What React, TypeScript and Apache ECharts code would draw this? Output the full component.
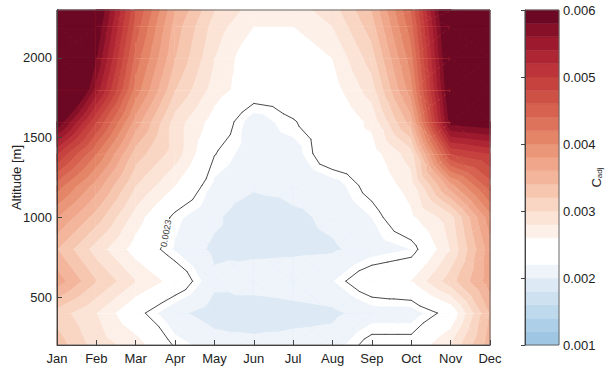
import React, { useEffect, useRef } from 'react';
import * as echarts from 'echarts';

// ---- data ----
const months = ['Jan', 'Feb', 'Mar', 'Apr', 'May', 'Jun', 'Jul', 'Aug', 'Sep', 'Oct', 'Nov', 'Dec'];
const altitudes = [200, 400, 600, 800, 1000, 1200, 1400, 1600, 1800, 2000, 2200, 2300];

// C_adj values per altitude row, Jan..Dec
const c200 = [0.0033, 0.0029, 0.0027, 0.00227, 0.0021, 0.0021, 0.0021, 0.0021, 0.0024, 0.0024, 0.0028, 0.0035];
const c400 = [0.0031, 0.0028, 0.00238, 0.00205, 0.0019, 0.0018, 0.0019, 0.00195, 0.0021, 0.0021, 0.0024, 0.0034];
const c600 = [0.0037, 0.0032, 0.0028, 0.0025, 0.00205, 0.00215, 0.00215, 0.0022, 0.0025, 0.0026, 0.0031, 0.0037];
const c800 = [0.0034, 0.0029, 0.0025, 0.00218, 0.00195, 0.00193, 0.00195, 0.00197, 0.0021, 0.0022, 0.0028, 0.0037];
const c1000 = [0.0038, 0.0033, 0.0027, 0.00224, 0.00205, 0.0018, 0.00195, 0.00205, 0.0022, 0.00255, 0.0029, 0.0039];
const c1200 = [0.0043, 0.0037, 0.003, 0.0026, 0.00216, 0.00205, 0.00208, 0.0021, 0.0024, 0.0027, 0.0037, 0.0045];
const c1400 = [0.005, 0.0042, 0.0033, 0.0029, 0.00231, 0.0021, 0.0021, 0.0025, 0.0025, 0.0029, 0.0048, 0.005];
const c1600 = [0.006, 0.0048, 0.0037, 0.0029, 0.0025, 0.0021, 0.00229, 0.0024, 0.00265, 0.0035, 0.0059, 0.006];
const c1800 = [0.007, 0.0055, 0.0041, 0.0032, 0.0027, 0.00245, 0.0024, 0.0025, 0.0029, 0.0039, 0.0061, 0.0072];
const c2000 = [0.0074, 0.0058, 0.0043, 0.0034, 0.0028, 0.0024, 0.0024, 0.0026, 0.0031, 0.0041, 0.0062, 0.0075];
const c2200 = [0.0076, 0.006, 0.0045, 0.0035, 0.0029, 0.0026, 0.0026, 0.0028, 0.0033, 0.0043, 0.0063, 0.0076];
const c2300 = [0.0077, 0.0061, 0.0046, 0.0036, 0.003, 0.0027, 0.0027, 0.0029, 0.0034, 0.0044, 0.0064, 0.0077];
const rows = [c200, c400, c600, c800, c1000, c1200, c1400, c1600, c1800, c2000, c2200, c2300];

const levels = [
  0.001, 0.0012, 0.0014, 0.0016, 0.0018, 0.002, 0.0022, 0.0024, 0.0026, 0.0028, 0.003,
  0.0032, 0.0034, 0.0036, 0.0038, 0.004, 0.0042, 0.0044, 0.0046, 0.0048, 0.005,
  0.0052, 0.0054, 0.0056, 0.0058, 0.006,
];
const bandColors = [
  '#9fc7e4', '#aecfe8', '#bed8ec', '#cee1f0', '#dde9f4', '#eef4fa', '#ffffff', '#ffffff',
  '#fdf0e8', '#fbe3d6', '#f9d5c3', '#f6c6af', '#f3b69c', '#efa68a', '#ea9678', '#e48568',
  '#dd735a', '#d6624f', '#ce5146', '#c6423f', '#bc3439', '#ae2633', '#9d1a2e', '#861027', '#6c0823',
];
const colorbarTicks = [0.001, 0.002, 0.003, 0.004, 0.005, 0.006];
const contourLevel = 0.0023;
const contourLabel = '0.0023';
const labelAltitude = 900;

const FONT = "'Liberation Sans', Arial, sans-serif";

type P = { x: number; y: number; v: number };

function clipAbove(poly: P[], level: number): P[] {
  const out: P[] = [];
  const n = poly.length;
  for (let k = 0; k < n; k++) {
    const a = poly[k];
    const b = poly[(k + 1) % n];
    const ina = a.v >= level;
    const inb = b.v >= level;
    if (ina) out.push(a);
    if (ina !== inb) {
      const t = (level - a.v) / (b.v - a.v);
      out.push({ x: a.x + t * (b.x - a.x), y: a.y + t * (b.y - a.y), v: level });
    }
  }
  return out;
}

function bandIndex(v: number): number {
  let k = 0;
  for (let i = 1; i < levels.length - 1; i++) if (v >= levels[i]) k = i;
  return k;
}

function renderField(params: any, api: any) {
  if (params.dataIndex !== 0) return null;
  const nM = months.length;
  const nA = altitudes.length;
  const tris: P[][] = [];
  for (let j = 0; j < nA - 1; j++) {
    for (let i = 0; i < nM - 1; i++) {
      const p00 = { x: i + 1, y: altitudes[j], v: rows[j][i] };
      const p10 = { x: i + 2, y: altitudes[j], v: rows[j][i + 1] };
      const p01 = { x: i + 1, y: altitudes[j + 1], v: rows[j + 1][i] };
      const p11 = { x: i + 2, y: altitudes[j + 1], v: rows[j + 1][i + 1] };
      const pc = {
        x: i + 1.5,
        y: (altitudes[j] + altitudes[j + 1]) / 2,
        v: (p00.v + p10.v + p01.v + p11.v) / 4,
      };
      tris.push([p00, p10, pc], [p10, p11, pc], [p11, p01, pc], [p01, p00, pc]);
    }
  }
  const children: any[] = [];
  const px = (p: { x: number; y: number }) => api.coord([p.x, p.y]);
  tris.forEach((tri) => {
    const vs = tri.map((p) => p.v);
    const kmin = bandIndex(Math.min(...vs));
    const kmax = bandIndex(Math.max(...vs));
    for (let k = kmin; k <= kmax; k++) {
      const poly = k === kmin ? tri : clipAbove(tri, levels[k]);
      if (poly.length < 3) continue;
      const c = bandColors[k];
      children.push({
        type: 'polygon',
        silent: true,
        shape: { points: poly.map(px) },
        style: { fill: c, stroke: c, lineWidth: 1, lineJoin: 'round' },
      });
    }
  });

  // contour line segments
  const segs: P[][] = [];
  tris.forEach((tri) => {
    const pts: P[] = [];
    for (let k = 0; k < 3; k++) {
      const a = tri[k];
      const b = tri[(k + 1) % 3];
      if ((a.v >= contourLevel) !== (b.v >= contourLevel)) {
        const t = (contourLevel - a.v) / (b.v - a.v);
        pts.push({ x: a.x + t * (b.x - a.x), y: a.y + t * (b.y - a.y), v: contourLevel });
      }
    }
    if (pts.length === 2) segs.push(pts);
  });

  // label location on the left branch
  let lc: number[] | null = null;
  let ang = 0;
  for (const s of segs) {
    const [a, b] = s;
    if (Math.min(a.x, b.x) > 5) continue;
    if ((a.y - labelAltitude) * (b.y - labelAltitude) <= 0 && a.y !== b.y) {
      const t = (labelAltitude - a.y) / (b.y - a.y);
      lc = api.coord([a.x + t * (b.x - a.x), labelAltitude]);
      const pa = px(a);
      const pb = px(b);
      let dx = pb[0] - pa[0];
      let dy = pb[1] - pa[1];
      if (dy > 0) { dx = -dx; dy = -dy; }
      ang = Math.atan2(-dy, dx);
      break;
    }
  }
  const R = 15;
  segs.forEach(([a, b]) => {
    const pa = px(a);
    const pb = px(b);
    let parts: number[][] = [[0, 1]];
    if (lc) {
      const dx = pb[0] - pa[0];
      const dy = pb[1] - pa[1];
      const fx = pa[0] - lc[0];
      const fy = pa[1] - lc[1];
      const A = dx * dx + dy * dy;
      const B = 2 * (fx * dx + fy * dy);
      const C = fx * fx + fy * fy - R * R;
      const disc = B * B - 4 * A * C;
      if (disc > 0 && A > 0) {
        const t1 = (-B - Math.sqrt(disc)) / (2 * A);
        const t2 = (-B + Math.sqrt(disc)) / (2 * A);
        parts = [];
        if (t1 > 0) parts.push([0, Math.min(1, t1)]);
        if (t2 < 1) parts.push([Math.max(0, t2), 1]);
      }
    }
    parts.forEach(([u, w]) => {
      if (w <= u) return;
      children.push({
        type: 'line',
        silent: true,
        shape: {
          x1: pa[0] + u * (pb[0] - pa[0]),
          y1: pa[1] + u * (pb[1] - pa[1]),
          x2: pa[0] + w * (pb[0] - pa[0]),
          y2: pa[1] + w * (pb[1] - pa[1]),
        },
        style: { stroke: '#4a4a4a', lineWidth: 1, lineCap: 'round' },
      });
    });
  });
  if (lc) {
    children.push({
      type: 'text',
      silent: true,
      x: lc[0],
      y: lc[1],
      rotation: ang,
      style: {
        text: contourLabel,
        x: 0,
        y: 0,
        align: 'center',
        verticalAlign: 'middle',
        textAlign: 'center',
        textVerticalAlign: 'middle',
        fontSize: 9,
        fontFamily: FONT,
        fill: '#444',
      },
    });
  }
  return { type: 'group', children };
}

function renderBand(params: any, api: any) {
  const p0 = api.coord([0, api.value(1)]);
  const p1 = api.coord([1, api.value(2)]);
  const c = bandColors[params.dataIndex];
  return {
    type: 'rect',
    silent: true,
    shape: { x: p0[0], y: p1[1], width: p1[0] - p0[0], height: p0[1] - p1[1] },
    style: { fill: c, stroke: c, lineWidth: 0.5 },
  };
}

export default function App() {
  const ref = useRef<HTMLDivElement>(null);
  useEffect(() => {
    document.body.style.margin = '0';
    if (!ref.current) return;
    const chart = echarts.init(ref.current, undefined, { renderer: 'svg' });
    const bandData = bandColors.map((_, k) => [0, levels[k], levels[k + 1]]);
    chart.setOption({
      animation: false,
      backgroundColor: '#ffffff',
      textStyle: { fontFamily: FONT },
      grid: [
        {
          left: 57, right: 118, top: 10, bottom: 27, show: true, borderColor: '#666', borderWidth: 1, z: 10,
          containLabel: false, outerBoundsMode: 'none',
        },
        {
          left: 525, width: 34, top: 10, bottom: 27, show: true, borderColor: '#666', borderWidth: 1, z: 10,
          containLabel: false, outerBoundsMode: 'none',
        },
      ],
      xAxis: [
        {
          gridIndex: 0,
          type: 'value',
          min: 1,
          max: 12,
          interval: 1,
          z: 10,
          axisLine: { show: true, lineStyle: { color: '#444', width: 1 } },
          axisTick: { show: true, inside: true, length: 5, lineStyle: { color: '#444' } },
          axisLabel: {
            fontSize: 13,
            color: '#222',
            margin: 7,
            fontFamily: FONT,
            formatter: (v: number) => months[Math.round(v) - 1] || '',
          },
          splitLine: { show: false },
        },
        { gridIndex: 1, type: 'value', min: 0, max: 1, show: false },
      ],
      yAxis: [
        {
          gridIndex: 0,
          type: 'value',
          min: altitudes[0],
          max: altitudes[altitudes.length - 1],
          z: 10,
          name: 'Altitude [m]',
          nameLocation: 'middle',
          nameRotate: 90,
          nameGap: 34,
          nameMoveOverlap: false,
          nameTextStyle: { fontSize: 13, color: '#222', fontFamily: FONT },
          axisLine: { show: true, lineStyle: { color: '#444', width: 1 } },
          axisTick: { show: true, inside: true, length: 5, lineStyle: { color: '#444' } },
          axisLabel: {
            fontSize: 13,
            color: '#222',
            margin: 5,
            fontFamily: FONT,
            showMinLabel: false,
            showMaxLabel: false,
            formatter: (v: number) => (v % 500 === 0 ? String(v) : ''),
          },
          splitLine: { show: false },
        },
        {
          gridIndex: 1,
          type: 'value',
          position: 'right',
          min: colorbarTicks[0],
          max: colorbarTicks[colorbarTicks.length - 1],
          interval: 0.001,
          z: 10,
          name: '{c|C}{s|adj}',
          nameLocation: 'middle',
          nameRotate: 90,
          nameGap: 31,
          nameMoveOverlap: false,
          nameTextStyle: {
            fontFamily: FONT,
            color: '#222',
            lineHeight: 13,
            rich: {
              c: { fontSize: 13, color: '#222', fontFamily: FONT, lineHeight: 13 },
              s: { fontSize: 8, color: '#222', fontFamily: FONT, verticalAlign: 'bottom', lineHeight: 13 },
            },
          },
          axisLine: { show: true, lineStyle: { color: '#444', width: 1 } },
          axisTick: { show: true, inside: true, length: 4, lineStyle: { color: '#444' } },
          axisLabel: {
            fontSize: 13,
            color: '#222',
            margin: 4,
            fontFamily: FONT,
            formatter: (v: number) => v.toFixed(3),
          },
          splitLine: { show: false },
        },
      ],
      series: [
        {
          type: 'custom',
          xAxisIndex: 0,
          yAxisIndex: 0,
          silent: true,
          z: 2,
          data: [[1, altitudes[0]]],
          encode: { x: 0, y: 1 },
          renderItem: renderField,
        },
        {
          type: 'custom',
          xAxisIndex: 1,
          yAxisIndex: 1,
          silent: true,
          z: 2,
          data: bandData,
          encode: { x: 0, y: [1, 2] },
          renderItem: renderBand,
        },
      ],
    });
    return () => chart.dispose();
  }, []);
  return <div ref={ref} style={{ width: 608, height: 372 }} />;
}
